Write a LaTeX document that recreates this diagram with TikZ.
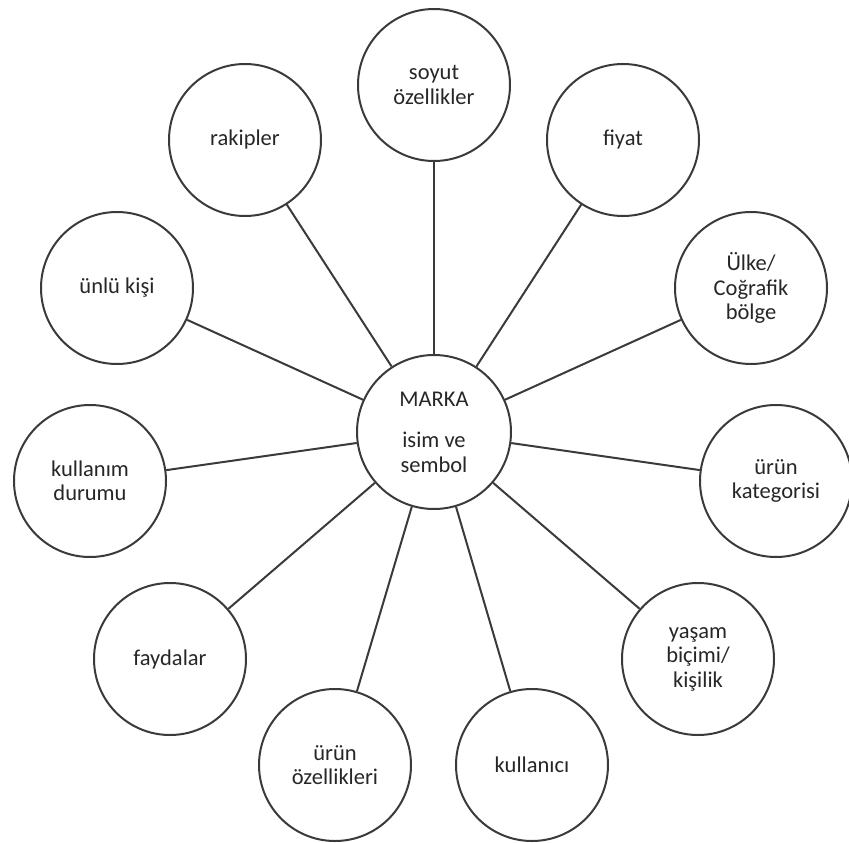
\documentclass[tikz,border=0pt]{standalone}
\usepackage{fontspec}
\setmainfont{Carlito}
\definecolor{rim}{RGB}{58,58,58}
\begin{document}
\begin{tikzpicture}[x=1pt,y=-1pt,
  bubble/.style={circle,draw=rim,line width=2pt,minimum size=152pt,inner sep=0pt,
    align=center,font=\fontsize{22.5}{24.5}\selectfont,text=black!85},
  hub/.style={bubble,minimum size=154pt},
  spoke/.style={draw=rim,line width=2pt}]
\useasboundingbox (0,0) rectangle (849,843);
\node[hub] (marka) at (434,432) {MARKA\\[17pt]isim ve\\sembol};
\node[bubble] (soyut) at (434,85) {soyut\\özellikler};
\node[bubble] (fiyat) at (623,140) {fiyat};
\node[bubble] (ulke) at (751,288) {Ülke/\\Coğrafik\\bölge};
\node[bubble] (kategori) at (776,481) {ürün\\kategorisi};
\node[bubble] (yasam) at (698,659) {yaşam\\biçimi/\\kişilik};
\node[bubble] (kullanici) at (532,765) {kullanıcı};
\node[bubble] (ozellik) at (335,765) {ürün\\özellikleri};
\node[bubble] (fayda) at (170,659) {faydalar};
\node[bubble] (durum) at (90,481) {kullanım\\durumu};
\node[bubble] (unlu) at (117,288) {ünlü kişi};
\node[bubble] (rakip) at (245,140) {rakipler};
\foreach \n in {soyut,fiyat,ulke,kategori,yasam,kullanici,ozellik,fayda,durum,unlu,rakip}
  \draw[spoke] (marka) -- (\n);
\end{tikzpicture}
\end{document}
